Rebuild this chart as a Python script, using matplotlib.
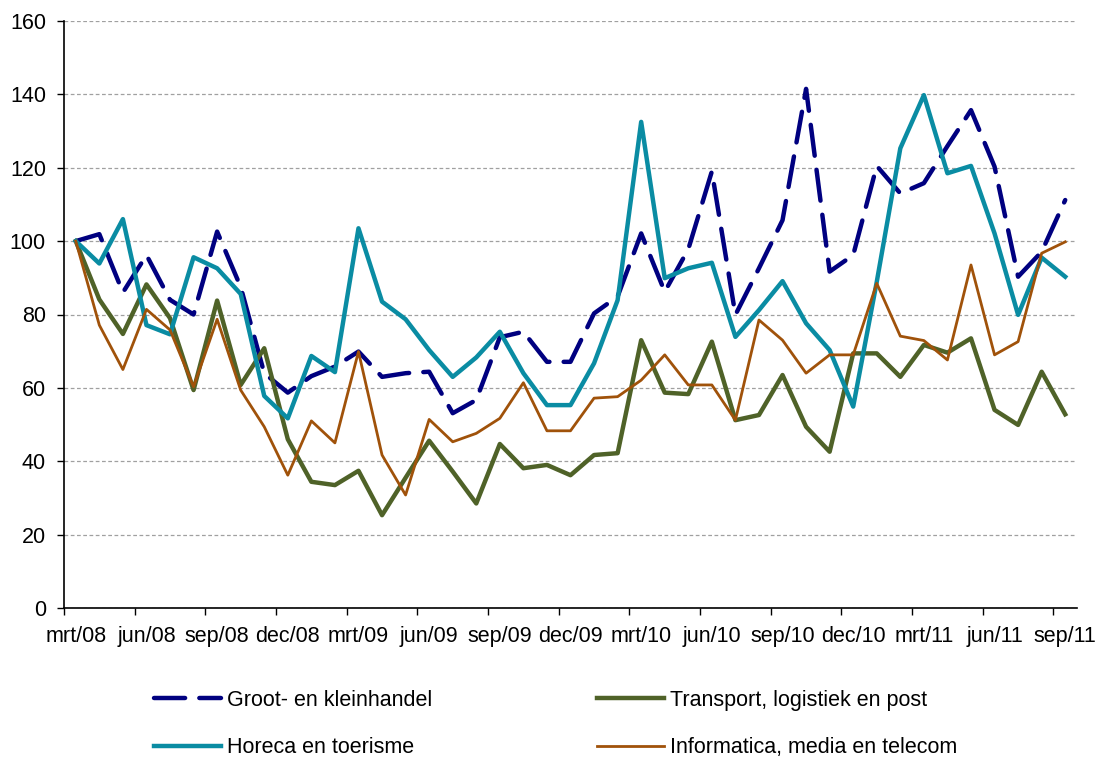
import numpy as np
import matplotlib
matplotlib.use('Agg')
import matplotlib.pyplot as plt

plt.rcParams['font.family'] = ['Liberation Sans', 'DejaVu Sans']

# maandelijkse index, mrt/08 = 100
maanden = ['mrt', 'apr', 'mei', 'jun', 'jul', 'aug', 'sep', 'okt', 'nov', 'dec', 'jan', 'feb']
jaar_start = 8
n_maanden = 43

groot = [100, 101.9, 86, 96.2, 84, 80, 102.6, 87.5, 64, 58.7, 63.2, 65.8, 69.9, 63, 64,
         64.4, 53.1, 56.7, 73.8, 75.3, 67.1, 67.1, 80.3, 84.9, 102.1, 86.2, 97.8, 119,
         79.9, 92.6, 105.7, 141.5, 91.7, 96.2, 120.5, 113, 115.8, 125.9, 135.7, 120.3,
         90.3, 97.1, 111.2]
transport = [100, 84.1, 74.7, 88.2, 79, 59.4, 83.8, 60.8, 70.8, 46, 34.4, 33.5, 37.4,
             25.3, 35.5, 45.6, 37.2, 28.5, 44.7, 38.1, 39, 36.2, 41.7, 42.2, 73, 58.7,
             58.3, 72.6, 51.2, 52.6, 63.5, 49.4, 42.6, 69.4, 69.4, 63, 71.7, 69.6, 73.5,
             54, 49.9, 64.4, 52.8]
horeca = [100, 93.9, 106, 77.1, 74.6, 95.6, 92.6, 85.6, 57.8, 51.7, 68.7, 64.3, 103.5,
          83.5, 78.7, 70.3, 63, 68.3, 75.3, 64, 55.3, 55.3, 66.7, 83.9, 132.5, 89.9, 92.6,
          94.1, 73.9, 81.2, 89.1, 77.6, 70.3, 54.9, 88.9, 125.3, 139.8, 118.5, 120.5,
          102.1, 79.9, 95.5, 90.3]
informatica = [100, 77.1, 65, 81.4, 75.8, 60.3, 78.7, 59.4, 49.4, 36.2, 51, 45, 69.9,
               41.7, 30.8, 51.4, 45.3, 47.6, 51.7, 61.4, 48.3, 48.3, 57.2, 57.6, 62.1, 69,
               60.8, 60.8, 51.2, 78.5, 73, 64, 69, 69, 88.5, 74.1, 72.9, 67.6, 93.5, 69,
               72.6, 96.7, 99.8]

x = np.arange(n_maanden)
labels = []
for i in range(n_maanden):
    jr = jaar_start + (i + 2) // 12
    labels.append('%s/%02d' % (maanden[i % 12], jr))

fig = plt.figure(figsize=(11, 7.58), dpi=100)
ax = fig.add_axes([64/1100, 1-608/758, (1077-64)/1100, (608-21)/758])

l1, = ax.plot(x, groot, color='#000080', lw=3.2, dashes=(7, 3.2),
              dash_capstyle='round', label='Groot- en kleinhandel')
l2, = ax.plot(x, transport, color='#4F6228', lw=3.2, label='Transport, logistiek en post')
l3, = ax.plot(x, horeca, color='#0A8CA3', lw=3.2, label='Horeca en toerisme')
l4, = ax.plot(x, informatica, color='#A0520A', lw=2.0, label='Informatica, media en telecom')

ax.set_xlim(-0.5, n_maanden - 0.5)
ax.set_ylim(0, 160)
ax.set_yticks(np.arange(0, 161, 20))
ax.yaxis.grid(True, color='#A0A0A0', linestyle=(0, (3, 2)), linewidth=0.9)
ax.set_axisbelow(True)

ax.set_xticks(x[::3])
ax.set_xticklabels(labels[::3])
ax.set_xticks(np.arange(-0.5, n_maanden, 3), minor=True)
ax.tick_params(axis='x', which='major', length=0, pad=13, labelsize=15.5)
ax.tick_params(axis='x', which='minor', length=5, width=1)
ax.tick_params(axis='y', length=5, width=1, pad=8, labelsize=15.5)

for s in ['top', 'right']:
    ax.spines[s].set_visible(False)
for s in ['left', 'bottom']:
    ax.spines[s].set_linewidth(1.2)

leg_kw = dict(frameon=False, fontsize=15.5, handlelength=3.1, handletextpad=0.3,
              labelspacing=1.23, borderpad=0, borderaxespad=0)
fig.legend([l1, l3], [l1.get_label(), l3.get_label()], loc='upper left',
           bbox_to_anchor=(154/1100, 1-690/758), **leg_kw)
fig.legend([l2, l4], [l2.get_label(), l4.get_label()], loc='upper left',
           bbox_to_anchor=(597/1100, 1-690/758), **leg_kw)

fig.savefig('out.png', dpi=100)
